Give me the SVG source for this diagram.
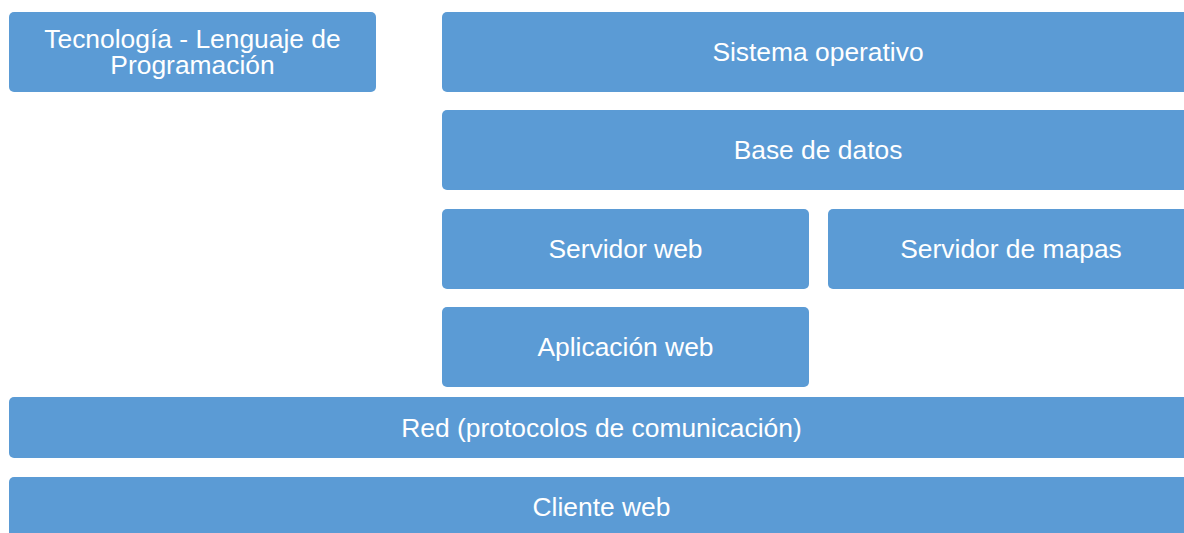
<svg xmlns="http://www.w3.org/2000/svg" width="1184" height="533" viewBox="0 0 1184 533">
  <style>
    .box { fill: #5B9BD5; }
    .lbl { fill: #ffffff; font-family: "Liberation Sans", Arial, sans-serif; font-size: 26.4px; text-anchor: middle; }
  </style>
  <rect width="1184" height="533" fill="#ffffff"/>
  <g id="tecnologia">
    <rect class="box" x="9" y="12" width="367" height="80" rx="5"/>
    <text class="lbl" x="192.5" y="47.5">Tecnología - Lenguaje de</text>
    <text class="lbl" x="192.5" y="74">Programación</text>
  </g>
  <g id="sistema-operativo">
    <rect class="box" x="442" y="12" width="752" height="80" rx="5"/>
    <text class="lbl" x="818" y="61">Sistema operativo</text>
  </g>
  <g id="base-de-datos">
    <rect class="box" x="442" y="110" width="752" height="80" rx="5"/>
    <text class="lbl" x="818" y="159">Base de datos</text>
  </g>
  <g id="servidor-web">
    <rect class="box" x="442" y="209" width="367" height="80" rx="5"/>
    <text class="lbl" x="625.5" y="258">Servidor web</text>
  </g>
  <g id="servidor-de-mapas">
    <rect class="box" x="828" y="209" width="366" height="80" rx="5"/>
    <text class="lbl" x="1011" y="258">Servidor de mapas</text>
  </g>
  <g id="aplicacion-web">
    <rect class="box" x="442" y="307" width="367" height="80" rx="5"/>
    <text class="lbl" x="625.5" y="356">Aplicación web</text>
  </g>
  <g id="red">
    <rect class="box" x="9" y="397" width="1185" height="61" rx="5"/>
    <text class="lbl" x="601.5" y="437">Red (protocolos de comunicación)</text>
  </g>
  <g id="cliente-web">
    <rect class="box" x="9" y="477" width="1185" height="70" rx="5"/>
    <text class="lbl" x="601.5" y="516">Cliente web</text>
  </g>
  <g id="connectors"/>
</svg>
